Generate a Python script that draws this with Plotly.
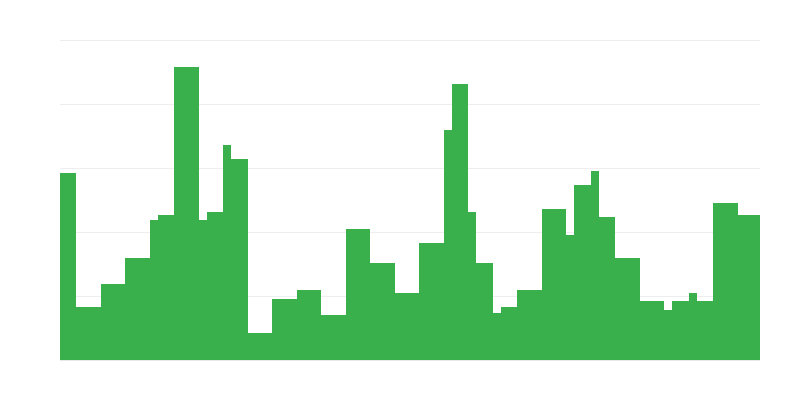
import numpy as np
import plotly.graph_objs as go

# half-hour bins, values read as constant runs (value, number of bins)
run_values = [29.2, 8.3, 11.9, 16.0, 21.9, 22.7, 45.8, 21.9, 23.2, 33.6,
              31.4, 4.2, 9.6, 11.0, 7.0, 20.5, 15.1, 10.5, 18.3, 35.9,
              43.1, 23.2, 15.1, 7.3, 8.3, 11.0, 23.6, 19.6, 27.3, 29.5,
              22.3, 16.0, 9.2, 7.8, 9.2, 10.5, 9.2, 24.6, 22.7]
run_lengths = [8, 12, 12, 12, 4, 8, 12, 4, 8, 4,
               8, 12, 12, 12, 12, 12, 12, 12, 12, 4,
               8, 4, 8, 4, 8, 12, 12, 4, 8, 4,
               8, 12, 12, 4, 8, 4, 8, 12, 11]

values = np.repeat(run_values, run_lengths)
bins = np.arange(len(values))

trace = go.Bar(x=bins,
               y=values,
               marker=dict(color='#39b04c', line=dict(width=0)),
               hoverinfo='y'
               )
# page body has an 8px margin, so size/margins put the plot area at 60..760 x 40..360
layout = go.Layout(template='plotly_white',
                   width=784, height=384,
                   margin=dict(l=52, r=32, t=30, b=32),
                   bargap=0,
                   showlegend=False,
                   xaxis=dict(showticklabels=False, showgrid=False, zeroline=False),
                   yaxis=dict(range=[0, 50.3125], dtick=10, showticklabels=False,
                              gridcolor='#eeeeee', zerolinecolor='#e8e8e8'),
                   )
fig = go.Figure(data=[trace], layout=layout)
fig.write_html('out.html')
